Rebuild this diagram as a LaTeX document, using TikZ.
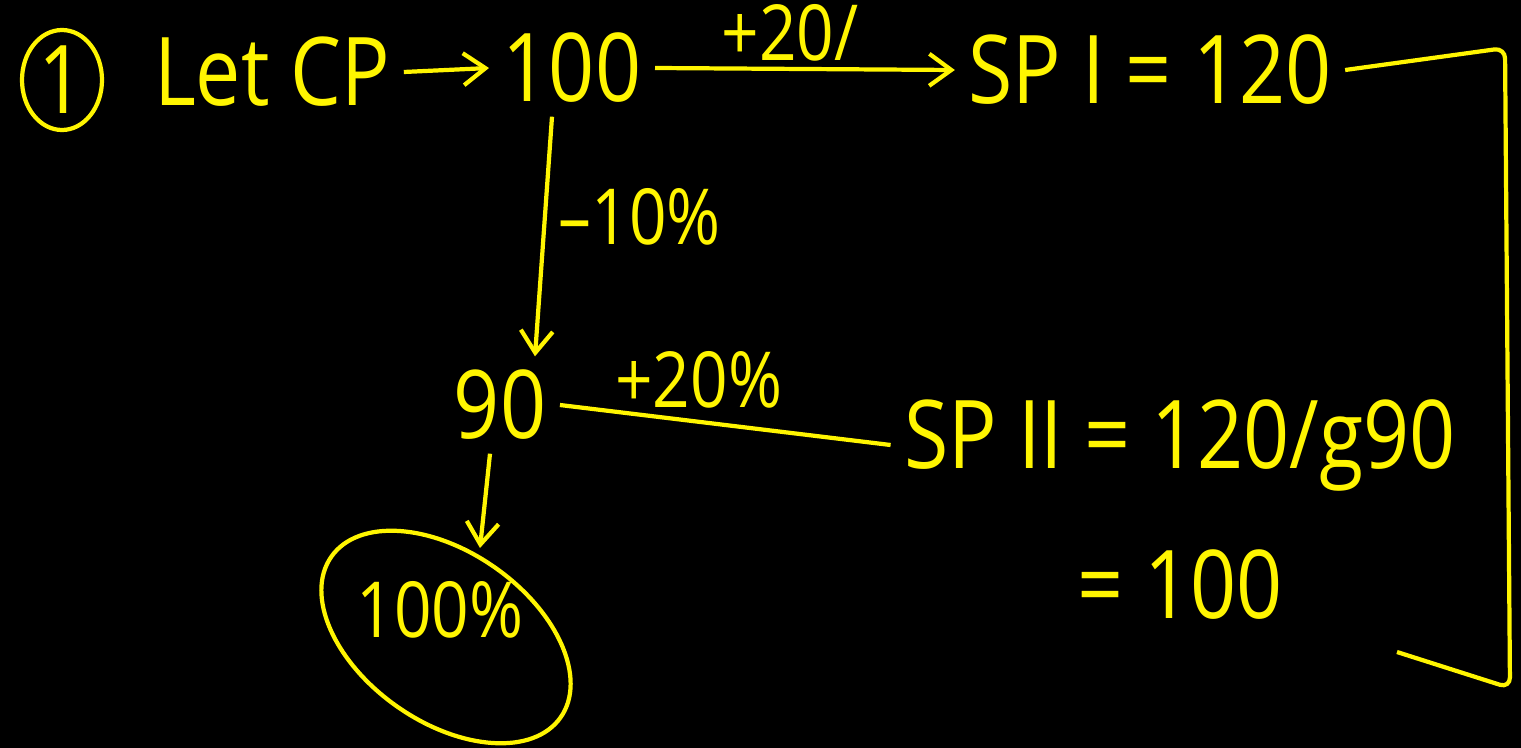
\documentclass[tikz,border=0pt]{standalone}
\usepackage{fontspec}
\setmainfont{Open Sans}[FakeStretch=0.85]
\usepackage{xcolor}
\definecolor{chalkyellow}{RGB}{255,245,0}
\usetikzlibrary{arrows.meta,positioning,shapes.geometric}

\begin{document}
\begin{tikzpicture}[>={Straight Barb[length=2.2mm,width=3.2mm]}, line width=1.2pt, draw=chalkyellow,
    every node/.style={text=chalkyellow, font=\fontsize{27}{30}\selectfont},
    lbl/.style={font=\fontsize{22}{24}\selectfont}]
        \fill[black] (0,0) rectangle (15.21,-7.48);
        \useasboundingbox (0,0) rectangle (15.21,-7.48);

        % first row
        \node (one) [draw=chalkyellow, ellipse, minimum width=0.8cm, minimum height=1.0cm, inner sep=0pt] at (0.62,-0.80) {1};
        \node (let) at (2.72,-0.72) {Let CP};
        \node (p100) at (5.72,-0.68) {100};
        \node (spone) at (11.50,-0.70) {SP I = 120};

        \draw[->] (let.east) -- (p100.west);
        \draw[->] (p100.east) -- node[above, lbl, yshift=-0.6mm, pos=0.45]{+20/} (spone.west);

        % second row
        \node (p90) at (5.00,-4.05) {90};
        \node (sptwo) at (11.80,-4.45) {SP II = 120/g90};
        \node (eq) at (11.80,-5.85) {= 100};
        \node (pc) [lbl] at (4.40,-6.10) {100\%};

        \draw[->] ([xshift=-2mm]p100.south) -- node[right, lbl, pos=0.42]{–10\%} ([xshift=-0.5mm]p90.north -| 5.40,0);
        \draw (p90.east) -- node[above, lbl, pos=0.42]{+20\%} (sptwo.west);
        \draw[->] ([xshift=-1mm]p90.south) -- (4.80,-5.48);
        \draw[chalkyellow] (4.46,-6.37) ellipse[x radius=1.4cm, y radius=0.85cm, rotate=-35];

        % bracket on the right
        \coordinate (b1) at (15.05,-0.48);
        \coordinate (b2) at (15.10,-6.88);
        \coordinate (b3) at (13.97,-6.52);
        \draw[rounded corners=3pt] (spone.east) -- (b1) -- (b2) -- (b3);
      \end{tikzpicture}
\end{document}
